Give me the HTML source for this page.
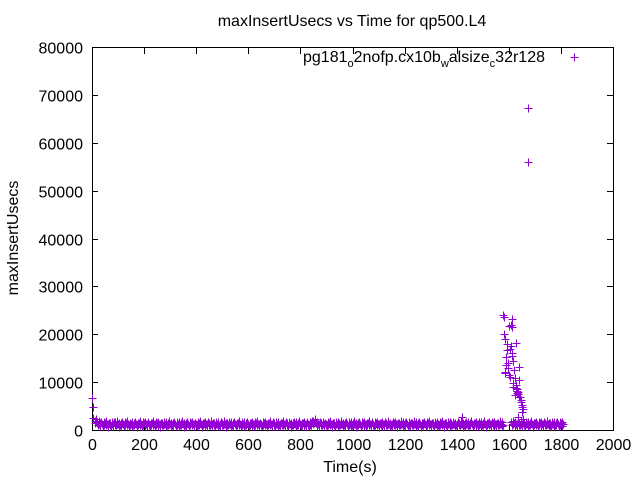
<!DOCTYPE html>
<html><head><meta charset="utf-8"><style>
body{margin:0;background:#fff}
svg{display:block;font-family:"Liberation Sans",sans-serif}
</style></head><body>
<svg id="c" width="640" height="480" xmlns="http://www.w3.org/2000/svg">
<rect width="640" height="480" fill="#fff"/>
<text x="352" y="26" font-size="16" text-anchor="middle">maxInsertUsecs vs Time for qp500.L4</text>
<text x="350" y="472" font-size="16" text-anchor="middle">Time(s)</text>
<text transform="translate(18,238) rotate(-90)" font-size="16" text-anchor="middle">maxInsertUsecs</text>
<g id="axes"></g>
<g id="marks"></g>
<text x="545" y="62" font-size="16" text-anchor="end">pg181<tspan font-size="11" dy="5">o</tspan><tspan dy="-5">2nofp.cx10b</tspan><tspan font-size="11" dy="5">w</tspan><tspan dy="-5">alsize</tspan><tspan font-size="11" dy="5">c</tspan><tspan dy="-5">32r128</tspan></text>
<path d="M570.5 57.5h8M574.5 53.5v8" stroke="#9400d3" stroke-width="1"/>
</svg>
<script>
const xTicks=[0,200,400,600,800,1000,1200,1400,1600,1800,2000];
const yTicks=[0,10000,20000,30000,40000,50000,60000,70000,80000];
const baseStart=10, baseStep=10;
const baseVals=[1900,1500,1400,1300,1500,1200,1400,1300,1600,1200,1400,1300,1500,1250,1350,1450,1200,1500,1300,1400,1350,1250,1500,1300,1400,1200,1450,1300,1550,1250,1400,1300,1350,1500,1200,1400,1300,1450,1250,1350,1500,1200,1400,1300,1550,1250,1400,1350,1300,1500,1200,1450,1300,1400,1250,1500,1300,1350,1450,1200,1400,1300,1500,1250,1350,1450,1200,1500,1300,1400,1350,1250,1500,1300,1400,1200,1450,1300,1550,1250,1400,1300,1350,1500,1900,1400,1300,1450,1250,1350,1500,1200,1400,1300,1550,1250,1400,1350,1300,1500,1200,1450,1300,1400,1250,1500,1300,1350,1450,1200,1400,1300,1500,1250,1350,1450,1200,1500,1300,1400,1350,1250,1500,1300,1400,1200,1450,1300,1550,1250,1400,1300,1350,1500,1200,1400,1300,1450,1250,1350,1500,1200,1400,1300,1550,1250,1400,1350,1300,1500,1200,1450,1300,1400,1250,1500,1300];
const base2Start=1610;
const base2Vals=[1600,1400,1300,1500,1250,1400,1350,1500,1200,1450,1300,1400,1350,1500,1250,1400,1300,1450,1350,1400];
const extraT=[0,2,4,1420,1578,1612,1612,1582,1593,1628,1612,1589,1597,1639,1585,1600,1639,1616,1631,1624,1647,1651,1654,1635,1605,1620,1643,1674,1674,1580,1586,1590,1595,1602,1608,1610,1614,1618,1622,1626,1630,1634,1637,1641,1645,1649,1652,1656,1584,1598,1606,1616,1627,1633];
const extraV=[6700,4800,2600,2800,24000,23200,21500,20000,18000,18200,16000,15200,14000,13200,11900,11500,10400,9000,8200,7300,6200,5200,4400,2700,17000,12500,6800,67200,56000,23500,19000,13500,16800,21800,22000,17500,15500,14500,10800,9500,8600,8000,7600,6900,5800,4900,3800,2200,12200,13000,11000,9800,8800,7800];
const X0=92,X1=613,Y0=430,Y1=47;
const xs=v=>X0+(v-0)/(2000-0)*(X1-X0);
const ys=v=>Y0-(v-0)/(80000-0)*(Y0-Y1);
const NS="http://www.w3.org/2000/svg";
const ax=document.getElementById('axes'), mk=document.getElementById('marks');
function el(t,a,p){const e=document.createElementNS(NS,t);for(const k in a)e.setAttribute(k,a[k]);p.appendChild(e);return e;}
const frame=el('rect',{x:X0+.5,y:Y1+.5,width:X1-X0,height:Y0-Y1,fill:'none',stroke:'#000','stroke-width':1},ax);


xTicks.forEach(t=>{const x=Math.round(xs(t))+.5;
 const l=el('path',{d:`M${x} ${Y0}v-6M${x} ${Y1+1}v6`,stroke:'#000'},ax);
 
 
 const tx=el('text',{x:x,y:Y0+20,'font-size':16,'text-anchor':'middle'},ax);tx.textContent=t;
 
 });
yTicks.forEach(t=>{const y=Math.round(ys(t))+.5;
 const l=el('path',{d:`M${X0} ${y}h6M${X1} ${y}h-6`,stroke:'#000'},ax);
 
 
 const tx=el('text',{x:X0-9,y:y+6,'font-size':16,'text-anchor':'end'},ax);tx.textContent=t;
 
 });
let d='';
function plus(t,v){const x=Math.round(xs(t))+.5,y=Math.round(ys(v))+.5;d+=`M${x-4} ${y}h8M${x} ${y-4}v8`;}
const offs=[0,2.5,5,7.5], dv=[0,-500,300,-250];
baseVals.forEach((v,i)=>offs.forEach((o,k)=>plus(baseStart+i*baseStep+o,v+dv[k])));
base2Vals.forEach((v,i)=>offs.forEach((o,k)=>plus(base2Start+i*baseStep+o,v+dv[k])));
extraT.forEach((t,i)=>plus(t,extraV[i]));
const p=el('path',{d:d,stroke:'#9400d3','stroke-width':1,fill:'none'},mk);


</script>
</body></html>
